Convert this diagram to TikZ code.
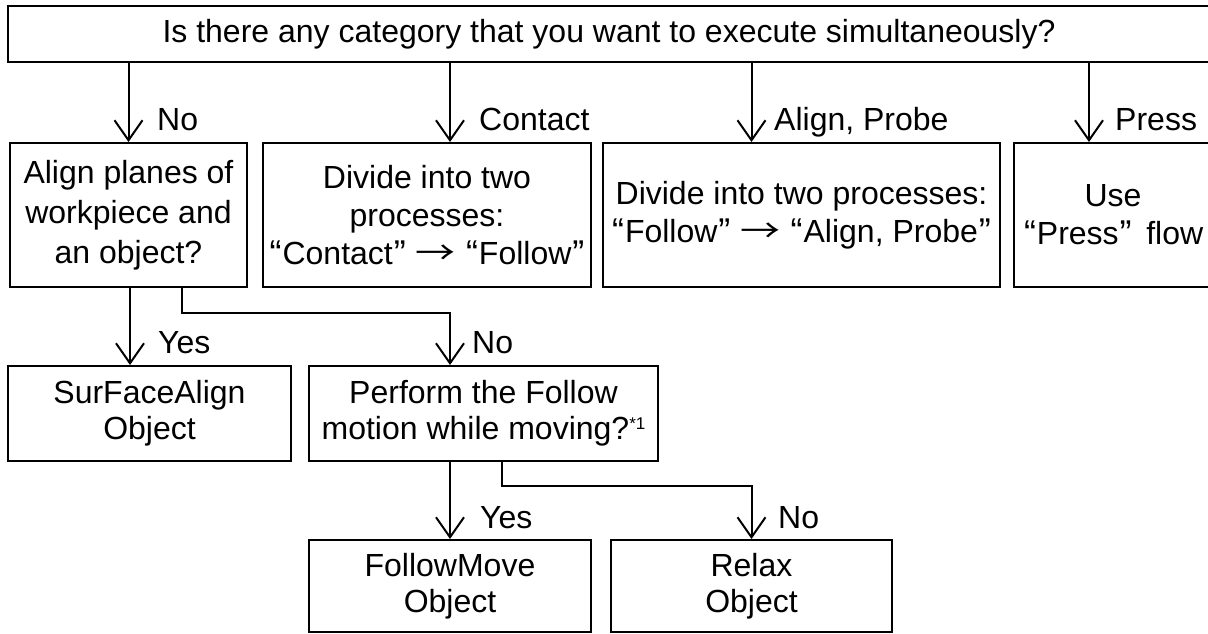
\documentclass[tikz,border=0pt]{standalone}
\usepackage{fontspec}
\setmainfont{Liberation Sans}
\newfontfamily\cjkfont{Noto Sans CJK JP}
\usetikzlibrary{arrows.meta,calc}
\newcommand\oq{\kern0.04em\raisebox{-0.03em}{\scalebox{1.12}{“}}\kern0.03em}
\newcommand\cq{\kern0.03em\raisebox{-0.03em}{\scalebox{1.12}{”}}\kern0.04em}
\newcommand\rarr{\scalebox{1.25}[1]{\cjkfont →}}
\begin{document}
\begin{tikzpicture}[x=1pt,y=-1pt,
  box/.style={draw, line width=2pt, inner sep=0pt, align=center, font=\fontsize{32}{38}\selectfont},
  lbl/.style={anchor=base west, inner sep=0pt, font=\fontsize{32}{38}\selectfont},
  arr/.style={line width=2pt, -{Straight Barb[length=20pt,width=28pt,line width=2pt]}}]
\useasboundingbox (0,0) rectangle (1208,634);
\clip (0,0) rectangle (1208,634);
% boxes
\node[box, minimum width=1202pt, minimum height=56pt] (top) at (609,34) {Is there any category that you want to execute simultaneously?};
\node[box, minimum width=237pt, minimum height=144pt, font=\fontsize{32}{40}\selectfont] (align) at (128.5,215) {Align planes of\\workpiece and\\an object?};
\node[box, minimum width=328pt, minimum height=144pt] (contact) at (427,215) {Divide into two\\processes:\\\oq Contact\cq\ \rarr\ \oq Follow\cq};
\node[box, minimum width=397pt, minimum height=144pt] (probe) at (801.5,215) {Divide into two processes:\\\oq Follow\cq\ \rarr\ \oq Align, Probe\cq};
\node[box, minimum width=198pt, minimum height=144pt] (press) at (1113,215) {Use\\\oq Press\cq\hspace{0.42em}flow};
\node[box, minimum width=283pt, minimum height=95pt, font=\fontsize{32}{36}\selectfont] (surface) at (149.5,413.5) {SurFaceAlign\\Object};
\node[box, minimum width=349pt, minimum height=95pt, font=\fontsize{32}{36}\selectfont] (perform) at (483.5,413.5) {Perform the Follow\\motion while moving?\raisebox{0.32em}{\fontsize{17}{17}\selectfont *1}};
\node[box, minimum width=282pt, minimum height=92pt, font=\fontsize{32}{36}\selectfont] (followmove) at (450,586) {FollowMove\\Object};
\node[box, minimum width=281pt, minimum height=92pt, font=\fontsize{32}{36}\selectfont] (relax) at (751.5,586) {Relax\\Object};
% connectors from top
\draw[arr] (align.north |- top.south) -- (align.north);
\draw[arr] (followmove.north |- top.south) -- (followmove.north |- contact.north);
\draw[arr] (relax.north |- top.south) -- (relax.north |- probe.north);
\draw[arr] ([xshift=-24pt]press.north |- top.south) -- ([xshift=-24pt]press.north);
% from align
\draw[arr] ([xshift=1.5pt]align.south) -- ([xshift=1.5pt]align.south |- surface.north);
\draw[arr] ([xshift=53.5pt]align.south) -- ++(0,25) -| (followmove.north |- perform.north);
% from perform
\draw[arr] (followmove.north |- perform.south) -- (followmove.north);
\draw[arr] ([xshift=18.5pt]perform.south) -- ++(0,24) -| (relax.north);
% labels
\node[lbl] (l1) at (157,130) {No};
\node[lbl] (l2) at (479,130) {Contact};
\node[lbl] (l3) at (774,130) {Align, Probe};
\node[lbl] (l4) at (1115,130) {Press};
\node[lbl] (l5) at (158,353) {Yes};
\node[lbl] (l6) at (472,353) {No};
\node[lbl] (l7) at (480,528) {Yes};
\node[lbl] (l8) at (778,528) {No};
\end{tikzpicture}
\end{document}
